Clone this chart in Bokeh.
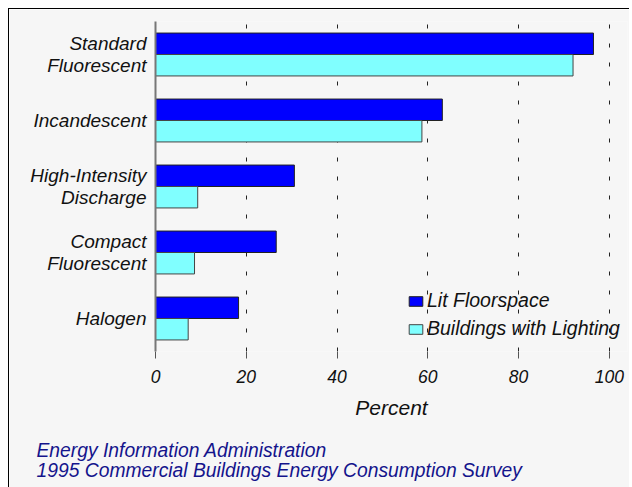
from bokeh.plotting import figure
from bokeh.models import FactorRange, Legend, LegendItem, ColumnDataSource, Title
from bokeh.transform import dodge
from bokeh.embed import file_html
from bokeh.resources import INLINE

# data (top to bottom)
categories = ["Standard\nFluorescent", "Incandescent", "High-Intensity\nDischarge",
              "Compact\nFluorescent", "Halogen"]
lit_floorspace = [96.5, 63.2, 30.6, 26.6, 18.3]
buildings_with_lighting = [92.0, 58.7, 9.3, 8.6, 7.2]
x_ticks = [0, 20, 40, 60, 80, 100]
source_lines = ["Energy Information Administration",
                "1995 Commercial Buildings Energy Consumption Survey"]

FONT = "Liberation Sans"
BG = "#f6f6f6"

src = ColumnDataSource(dict(cat=categories, lit=lit_floorspace, bld=buildings_with_lighting))

p = figure(width=620, height=476, frame_width=472, frame_height=330,
           output_backend="svg", toolbar_location=None,
           y_range=FactorRange(factors=list(reversed(categories))),
           x_range=(0, 104),
           min_border_left=146, min_border_right=2, min_border_top=12, min_border_bottom=0)
p.styles = {"margin-left": "8px", "margin-top": "8px",
            "border-top": "1px solid black", "border-left": "1px solid black"}
p.background_fill_color = BG
p.border_fill_color = BG
p.outline_line_color = None

r1 = p.hbar(y=dodge("cat", 0.1625, range=p.y_range), right="lit", left=0, height=0.325,
            source=src, fill_color="#0000ff", line_color="#222222", line_width=1)
r2 = p.hbar(y=dodge("cat", -0.1625, range=p.y_range), right="bld", left=0, height=0.325,
            source=src, fill_color="#80ffff", line_color="#444444", line_width=1)

# grid
p.ygrid.grid_line_color = None
p.xgrid.grid_line_color = "#222222"
p.xgrid.grid_line_dash = "4 15"
p.xgrid.grid_line_width = 1
p.xgrid.level = "underlay"

# x axis
p.xaxis.ticker = x_ticks
p.xaxis.axis_line_color = None
p.xaxis.major_tick_in = 0
p.xaxis.major_tick_out = 7
p.xaxis.major_tick_line_color = "#555555"
p.xaxis.minor_tick_line_color = None
p.xaxis.major_label_standoff = 11
p.xaxis.major_label_text_font = FONT
p.xaxis.major_label_text_font_style = "italic"
p.xaxis.major_label_text_font_size = "17.5px"
p.xaxis.major_label_text_color = "#111111"
p.xaxis.axis_label = "Percent"
p.xaxis.axis_label_text_font = FONT
p.xaxis.axis_label_text_font_style = "italic"
p.xaxis.axis_label_text_font_size = "21px"
p.xaxis.axis_label_text_color = "#111111"
p.xaxis.axis_label_standoff = 10

# y axis
p.yaxis.axis_line_color = "#777777"
p.yaxis.axis_line_width = 2
p.yaxis.major_tick_line_color = None
p.yaxis.major_tick_out = 0
p.yaxis.major_tick_in = 0
p.yaxis.major_label_standoff = 9
p.yaxis.major_label_text_font = FONT
p.yaxis.major_label_text_font_style = "italic"
p.yaxis.major_label_text_font_size = "19px"
p.yaxis.major_label_text_line_height = 1.05
p.yaxis.major_label_text_color = "#111111"

legend = Legend(items=[LegendItem(label="Lit Floorspace", renderers=[r1]),
                       LegendItem(label="Buildings with Lighting", renderers=[r2])],
                location=(252, 11), orientation="vertical",
                background_fill_alpha=0, border_line_color=None,
                padding=0, margin=0, spacing=5,
                glyph_width=17, glyph_height=12, label_standoff=3, label_height=20,
                label_text_font=FONT, label_text_font_style="italic",
                label_text_font_size="19.5px", label_text_color="#111111")
p.add_layout(legend, "center")

footer = Title(text="\n".join(source_lines), align="left", offset=-119, text_font=FONT,
               standoff=32, text_line_height=0.98,
               text_font_style="italic", text_font_size="19.3px", text_color="#14148c")
p.add_layout(footer, "below")

open("out.html", "w").write(file_html(p, INLINE))
